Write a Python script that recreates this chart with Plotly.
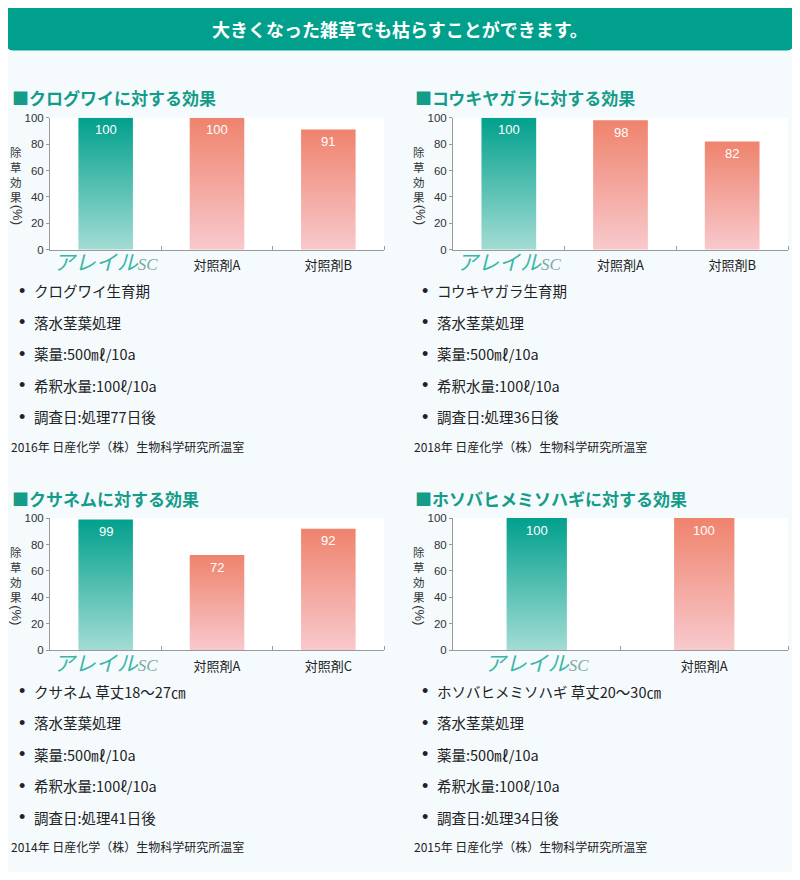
import plotly.graph_objects as go

# ---------------- data ----------------
header = "大きくなった雑草でも枯らすことができます。"

titles = [
    "■クログワイに対する効果",
    "■コウキヤガラに対する効果",
    "■クサネムに対する効果",
    "■ホソバヒメミソハギに対する効果",
]

cats1 = ["アレイルSC", "対照剤A", "対照剤B"]
cats2 = ["アレイルSC", "対照剤A", "対照剤B"]
cats3 = ["アレイルSC", "対照剤A", "対照剤C"]
cats4 = ["アレイルSC", "対照剤A"]

vals1 = [100, 100, 91]
vals2 = [100, 98, 82]
vals3 = [99, 72, 92]
vals4 = [100, 100]

bullets1 = ["クログワイ生育期", "落水茎葉処理", "薬量:500㎖/10a", "希釈水量:100ℓ/10a", "調査日:処理77日後"]
bullets2 = ["コウキヤガラ生育期", "落水茎葉処理", "薬量:500㎖/10a", "希釈水量:100ℓ/10a", "調査日:処理36日後"]
bullets3 = ["クサネム 草丈18〜27㎝", "落水茎葉処理", "薬量:500㎖/10a", "希釈水量:100ℓ/10a", "調査日:処理41日後"]
bullets4 = ["ホソバヒメミソハギ 草丈20〜30㎝", "落水茎葉処理", "薬量:500㎖/10a", "希釈水量:100ℓ/10a", "調査日:処理34日後"]

sources = [
    "2016年 日産化学（株）生物科学研究所温室",
    "2018年 日産化学（株）生物科学研究所温室",
    "2014年 日産化学（株）生物科学研究所温室",
    "2015年 日産化学（株）生物科学研究所温室",
]

yticks = [0, 20, 40, 60, 80, 100]
ytitle_chars = ["除", "草", "効", "果"]
ytitle_unit = "(%)"

# ---------------- style ----------------
# page body has an 8px default margin: figure is sized to fit inside the window
OFF = 8
W, H = 800 - 2 * OFF, 880 - 2 * OFF
VS = 0.985  # vertical compensation
BG = "#f5fafd"
TEAL = "#00a08c"
JP = "Noto Sans CJK JP"
LAT = "Liberation Sans"

TEAL_TOP, TEAL_BOT = "#01a08d", "#a3dcd4"
RED_TOP, RED_BOT = "#ef836d", "#f8c9cd"


def px(x):
    return (x - OFF) / W


def py(y):
    yc = 440 + (y - 440) / VS
    return 1 - (yc - OFF) / H


def logo_html():
    return ("<span style='font-size:21px;color:#3ab6a6'><i>アレイル</i></span>"
            "<span style='font-family:Liberation Serif;font-size:17px;color:#7ca9a6'><i>SC</i></span>")


panels = [
    dict(title=titles[0], cats=cats1, vals=vals1, bullets=bullets1, source=sources[0], ox=0, oy=0,
         box=(50, 384), bw=0.49),
    dict(title=titles[1], cats=cats2, vals=vals2, bullets=bullets2, source=sources[1], ox=403, oy=0,
         box=(453, 788), bw=0.49),
    dict(title=titles[2], cats=cats3, vals=vals3, bullets=bullets3, source=sources[2], ox=0, oy=400,
         box=(50, 384), bw=0.49),
    dict(title=titles[3], cats=cats4, vals=vals4, bullets=bullets4, source=sources[3], ox=403, oy=400,
         box=(453, 788), bw=0.36),
]

fig = go.Figure()
annotations = []
shapes = []

# header bar (rounded)
x0, x1, y0, y1, r = 7, 793, 6, 51, 6
path = (f"M {px(x0 + r)},{py(y0)} L {px(x1 - r)},{py(y0)} Q {px(x1)},{py(y0)} {px(x1)},{py(y0 + r)} "
        f"L {px(x1)},{py(y1 - r)} Q {px(x1)},{py(y1)} {px(x1 - r)},{py(y1)} "
        f"L {px(x0 + r)},{py(y1)} Q {px(x0)},{py(y1)} {px(x0)},{py(y1 - r)} "
        f"L {px(x0)},{py(y0 + r)} Q {px(x0)},{py(y0)} {px(x0 + r)},{py(y0)} Z")
shapes.append(dict(type="path", xref="paper", yref="paper", path=path,
                   fillcolor=TEAL, line=dict(width=0), layer="below"))
annotations.append(dict(text=f"<b>{header}</b>", xref="paper", yref="paper", x=px(400), y=py(29),
                        xanchor="center", yanchor="middle", showarrow=False,
                        font=dict(family=JP, size=18, color="white")))

for k, p in enumerate(panels):
    idx = "" if k == 0 else str(k + 1)
    xa, ya = "x" + idx, "y" + idx
    ox, oy = p["ox"], p["oy"]
    n = len(p["cats"])
    l, rr = p["box"]
    top, bot = 118 + oy, 250 + oy

    # bars as gradient-filled polygons
    for i, v in enumerate(p["vals"]):
        w = p["bw"] / 2
        top_c, bot_c = (TEAL_TOP, TEAL_BOT) if i == 0 else (RED_TOP, RED_BOT)
        fig.add_trace(go.Scatter(
            x=[i - w, i + w, i + w, i - w, i - w], y=[0, 0, v, v, 0],
            mode="lines", fill="toself", line=dict(width=0),
            fillgradient=dict(type="vertical", colorscale=[[0, bot_c], [1, top_c]]),
            hoverinfo="skip", showlegend=False, xaxis=xa, yaxis=ya))
        annotations.append(dict(text=str(v), xref=xa, yref=ya, x=i, y=v, yshift=-12,
                                xanchor="center", yanchor="middle", showarrow=False,
                                font=dict(family=LAT, size=13, color="white")))

    ticktext = [logo_html() if c == "アレイルSC" else c for c in p["cats"]]
    fig.layout["xaxis" + idx] = dict(
        domain=[px(l), px(rr)], anchor=ya, range=[-0.5, n - 0.5],
        tickmode="array", tickvals=list(range(n)), ticktext=ticktext, ticks="",
        ticklabelstandoff=4,
        tickfont=dict(family=JP, size=13, color="#222"),
        showline=True, linecolor="#9a9a9a", linewidth=1, showgrid=False, zeroline=False,
        minor=dict(tickmode="array", tickvals=[i + 0.5 for i in range(n)], ticks="inside",
                   ticklen=4, tickcolor="#9a9a9a"),
        fixedrange=True)
    fig.layout["yaxis" + idx] = dict(
        domain=[py(bot), py(top)], anchor=xa, range=[0, 100],
        tickmode="array", tickvals=yticks, ticks="outside", ticklen=3, tickcolor="#9a9a9a",
        tickfont=dict(family=LAT, size=11.5, color="#333"),
        showline=True, linecolor="#9a9a9a", linewidth=1, showgrid=False, zeroline=False,
        fixedrange=True)

    # panel title
    annotations.append(dict(text=f"<b>{p['title']}</b>", xref="paper", yref="paper",
                            x=px(10 + ox), y=py(98 + oy), xanchor="left", yanchor="middle",
                            showarrow=False, font=dict(family=JP, size=17, color="#149c88")))

    # y-axis title (upright stacked characters, then rotated unit)
    cx = 16 + ox
    annotations.append(dict(text="<br>".join(ytitle_chars), xref="paper", yref="paper",
                            x=px(cx), y=py(143 + oy), xanchor="center", yanchor="top",
                            showarrow=False, borderpad=0,
                            font=dict(family=JP, size=11.5, color="#333")))
    annotations.append(dict(text=ytitle_unit, xref="paper", yref="paper", x=px(cx + 1), y=py(215 + oy),
                            xanchor="center", yanchor="middle", showarrow=False, textangle=90,
                            borderpad=0, font=dict(family=LAT, size=13, color="#333")))

    # bullets
    for j, b in enumerate(p["bullets"]):
        yy = 291 + 31.5 * j + oy
        annotations.append(dict(text="•", xref="paper", yref="paper", x=px(22 + ox), y=py(yy),
                                xanchor="center", yanchor="middle", showarrow=False,
                                font=dict(family=LAT, size=18, color="#222")))
        annotations.append(dict(text=b, xref="paper", yref="paper", x=px(32 + ox), y=py(yy),
                                xanchor="left", yanchor="middle", showarrow=False,
                                font=dict(family=JP, size=14.5, color="#222")))
    annotations.append(dict(text=p["source"], xref="paper", yref="paper", x=px(9 + ox), y=py(446 + oy),
                            xanchor="left", yanchor="middle", showarrow=False,
                            font=dict(family=JP, size=12, color="#222")))

fig.update_layout(
    width=W, height=H, margin=dict(l=0, r=0, t=0, b=0),
    paper_bgcolor=BG, plot_bgcolor="white",
    annotations=annotations, shapes=shapes, showlegend=False,
)

fig.write_html("out.html")
